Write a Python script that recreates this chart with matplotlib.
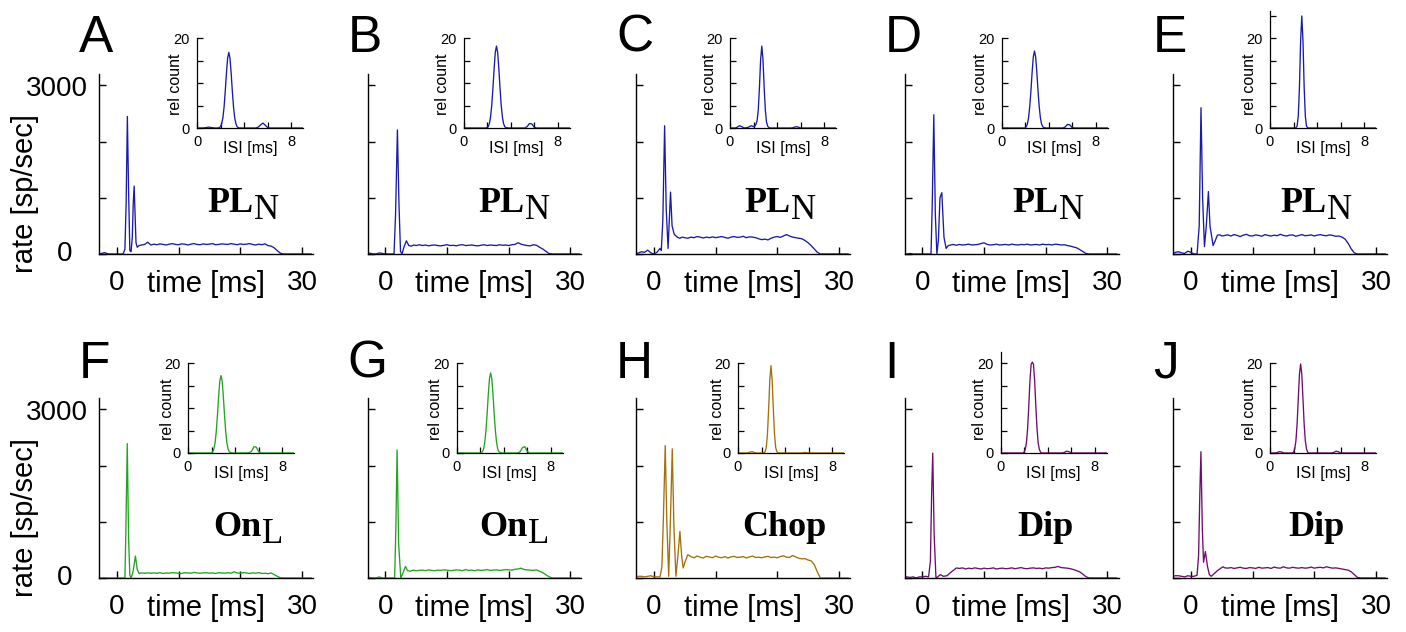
import numpy as np
import matplotlib
matplotlib.use('Agg')
import matplotlib.pyplot as plt

# ---------------- data ----------------
panels = ['A', 'B', 'C', 'D', 'E', 'F', 'G', 'H', 'I', 'J']
type_main = ['PL', 'PL', 'PL', 'PL', 'PL', 'On', 'On', 'Chop', 'Dip', 'Dip']
type_sub = ['N', 'N', 'N', 'N', 'N', 'L', 'L', '', '', '']

# onset part of the PSTH (time in ms, rate in sp/sec)
t_on = {
    'A': [-3, -2.5, -2, -1.5, -1, -0.5, 0, 0.5, 1.0, 1.3, 1.5, 1.7, 1.9, 2.1, 2.3, 2.5, 2.65, 2.8, 2.95, 3.1, 3.3, 3.6, 4.0, 4.5, 5.0, 5.5],
    'B': [-3, -2.5, -2, -1.5, -1, -0.5, 0, 0.5, 1.0, 1.4, 1.65, 1.95, 2.2, 2.45, 2.7, 3.0, 3.4, 3.8, 4.2, 4.6, 5.0, 5.5],
    'C': [-3, -2.5, -2, -1.5, -1, -0.5, 0, 0.5, 1.0, 1.2, 1.45, 1.74, 2.0, 2.3, 2.5, 2.7, 2.95, 3.3, 3.8, 4.2, 4.6, 5.0, 5.5],
    'D': [-3, -2.5, -2, -1.5, -1, -0.5, 0, 0.5, 1.0, 1.4, 1.6, 1.85, 2.1, 2.35, 2.6, 2.85, 3.15, 3.5, 3.85, 4.2, 4.6, 5.0, 5.5],
    'E': [-3, -2.5, -2, -1.5, -1, -0.5, 0, 0.5, 1.0, 1.35, 1.64, 1.9, 2.2, 2.5, 2.84, 3.1, 3.6, 4.0, 4.3, 4.7, 5.0, 5.5],
    'F': [-3, -2.5, -2, -1.5, -1, -0.5, 0, 0.5, 1.0, 1.3, 1.45, 1.68, 1.9, 2.1, 2.3, 2.6, 3.0, 3.3, 3.6, 4.0, 4.5, 5.0, 5.5],
    'G': [-3, -2.5, -2, -1.5, -1, -0.5, 0, 0.5, 1.0, 1.5, 1.7, 1.9, 2.15, 2.5, 2.9, 3.25, 3.6, 4.0, 4.5, 5.0, 5.5],
    'H': [-3, -2.5, -2, -1.5, -1, -0.5, 0, 0.5, 1.0, 1.3, 1.55, 1.84, 2.1, 2.4, 2.7, 2.98, 3.25, 3.57, 3.9, 4.22, 4.5, 4.75, 5.1, 5.5],
    'I': [-3, -2.5, -2, -1.5, -1, -0.5, 0, 0.5, 1.0, 1.3, 1.5, 1.68, 1.9, 2.2, 2.5, 2.9, 3.4, 4.0, 4.5, 4.8, 5.2, 5.5],
    'J': [-3, -2.5, -2, -1.5, -1, -0.5, 0, 0.5, 1.0, 1.25, 1.45, 1.63, 1.85, 2.05, 2.35, 2.7, 3.0, 3.3, 3.8, 4.3, 4.8, 5.2, 5.5],
}
r_on = {
    'A': [0, 10, 25, 5, 0, 0, 0, 0, 0, 80, 900, 2445, 1100, 60, 40, 300, 900, 1208, 700, 200, 120, 150, 160, 170, 210, 160],
    'B': [0, 15, 0, 0, 20, 10, 0, 0, 0, 0, 700, 2206, 900, 50, 0, 120, 235, 150, 140, 160, 150, 165],
    'C': [0, 20, 40, 30, 70, 20, 0, 30, 100, 60, 600, 2280, 800, 100, 600, 1100, 500, 350, 300, 280, 300, 290, 280],
    'D': [0, 0, 10, 0, 0, 0, 0, 0, 0, 0, 900, 2475, 700, 0, 250, 1000, 1090, 300, 100, 150, 160, 170, 155],
    'E': [0, 30, 40, 20, 10, 50, 30, 0, 0, 500, 2600, 1000, 130, 500, 1110, 500, 150, 250, 335, 340, 320, 330],
    'F': [0, 0, 0, 0, 0, 0, 0, 0, 0, 0, 800, 2390, 700, 50, 0, 100, 390, 150, 80, 90, 85, 90, 85],
    'G': [0, 10, 0, 0, 20, 0, 0, 0, 0, 0, 900, 2276, 600, 0, 100, 205, 130, 120, 140, 130, 135],
    'H': [20, 30, 30, 20, 30, 40, 20, 20, 20, 200, 1100, 2355, 1000, 30, 1100, 2296, 900, 30, 400, 828, 400, 178, 300, 414],
    'I': [20, 20, 10, 20, 0, 20, 20, 30, 20, 300, 1500, 2219, 800, 0, 20, 60, 30, 40, 90, 118, 150, 178],
    'J': [30, 40, 40, 30, 20, 40, 30, 30, 50, 400, 1500, 2245, 900, 280, 470, 200, 60, 30, 80, 130, 170, 200, 180],
}

# sustained part, sampled every 0.5 ms from 6.0 to 31.5 ms
t_sus = np.arange(6.0, 31.51, 0.5)
r_sus = {
    'A': [175, 165, 180, 170, 160, 175, 185, 170, 165, 180, 175, 160, 175, 185, 170, 165,
          180, 170, 175, 185, 165, 170, 180, 175, 170, 185, 175, 165, 180, 170, 175, 185,
          170, 160, 175, 165, 180, 150, 140, 110, 60, 15, 0, 0, 0, 0, 0, 0, 0, 0, 0, 0],
    'B': [150, 160, 145, 155, 160, 150, 145, 155, 165, 150, 155, 145, 160, 165, 150, 155,
          160, 150, 145, 155, 165, 150, 160, 155, 150, 165, 155, 160, 150, 165, 170, 200,
          175, 160, 150, 145, 165, 155, 120, 90, 50, 10, 0, 0, 0, 0, 0, 0, 0, 0, 0, 0],
    'C': [300, 290, 310, 300, 285, 300, 290, 305, 290, 300, 310, 295, 280, 300, 310, 295,
          300, 315, 290, 305, 300, 290, 270, 255, 265, 250, 280, 300, 310, 295, 320, 345,
          320, 300, 290, 280, 270, 240, 200, 150, 90, 30, 0, 0, 0, 0, 0, 0, 0, 0, 0, 0],
    'D': [170, 160, 165, 175, 160, 165, 170, 185, 200, 170, 160, 165, 175, 160, 165, 170,
          160, 175, 165, 160, 170, 165, 175, 160, 165, 170, 160, 175, 165, 170, 160, 175,
          170, 160, 165, 150, 140, 125, 110, 80, 45, 10, 0, 0, 0, 0, 0, 0, 0, 0, 0, 0],
    'E': [340, 320, 345, 330, 310, 335, 350, 325, 320, 340, 330, 315, 345, 330, 320, 335,
          325, 350, 330, 320, 335, 340, 315, 330, 345, 325, 330, 340, 320, 335, 345, 330,
          325, 340, 330, 315, 320, 300, 265, 190, 90, 20, 0, 0, 0, 0, 0, 0, 0, 0, 0, 0],
    'F': [90, 85, 95, 80, 90, 85, 95, 90, 85, 80, 95, 90, 85, 100, 90, 85,
          90, 95, 85, 90, 80, 95, 90, 85, 95, 85, 110, 90, 85, 95, 90, 80,
          90, 85, 95, 80, 85, 75, 90, 60, 30, 5, 0, 0, 0, 0, 0, 0, 0, 0, 0, 0],
    'G': [140, 130, 145, 135, 130, 140, 135, 145, 140, 130, 135, 145, 140, 130, 150, 135,
          140, 130, 145, 135, 140, 150, 135, 140, 145, 135, 140, 150, 145, 140, 155, 160,
          175, 150, 145, 140, 135, 145, 120, 95, 60, 25, 0, 0, 0, 0, 0, 0, 0, 0, 0, 0],
    'H': [380, 360, 390, 370, 355, 385, 375, 360, 390, 370, 360, 380, 355, 375, 385, 365,
          370, 380, 355, 375, 390, 365, 370, 360, 375, 385, 365, 370, 360, 380, 395, 370,
          365, 400, 375, 350, 340, 345, 320, 305, 240, 110, 0, 0, 0, 0, 0, 0, 0, 0, 0, 0],
    'I': [170, 180, 160, 175, 165, 180, 170, 160, 175, 165, 170, 180, 160, 170, 175, 165,
          170, 180, 165, 175, 185, 170, 165, 175, 180, 170, 175, 165, 180, 175, 185, 190,
          205, 185, 180, 175, 165, 150, 130, 110, 70, 25, 0, 0, 0, 0, 0, 0, 0, 0, 0, 0],
    'J': [175, 185, 170, 180, 190, 175, 170, 185, 180, 170, 190, 175, 180, 185, 170, 195,
          180, 175, 200, 180, 175, 190, 180, 175, 185, 175, 180, 195, 175, 185, 190, 180,
          200, 185, 175, 180, 170, 160, 150, 140, 110, 60, 10, 0, 0, 0, 0, 0, 0, 0, 0, 0],
}

# ISI histograms (ISI in ms, relative count)
isi_t = [0, 0.5, 0.8, 1.0, 1.2, 1.5, 1.8, 1.9, 2.0, 2.1, 2.2, 2.3, 2.4, 2.5, 2.6, 2.7, 2.8, 2.9,
         3.0, 3.1, 3.2, 3.3, 3.4, 3.5, 3.6, 3.8, 4.0, 4.5, 5.0, 5.2, 5.4, 5.6, 5.8, 6.0, 6.2,
         6.5, 7.0, 8.0, 9.0]
isi_c = {
    'A': [0, 0, 0.1, 0.2, 0.1, 0, 0, 0.1, 0.3, 1.0, 2.3, 4.7, 8.2, 12.2, 15.5, 16.8, 15.5, 12.2,
          8.2, 4.7, 2.3, 1.0, 0.3, 0.1, 0, 0, 0, 0, 0, 0.2, 0.7, 1.1, 0.6, 0.1, 0, 0, 0, 0, 0],
    'B': [0, 0, 0, 0, 0, 0, 0, 0, 0.1, 0.3, 1.0, 2.5, 5.1, 8.9, 13.2, 16.8, 18.2, 16.8,
          13.2, 8.9, 5.1, 2.5, 1.0, 0.3, 0.1, 0, 0, 0, 0, 0, 0.3, 1.0, 0.9, 0.2, 0, 0, 0, 0, 0],
    'C': [0, 0, 0.5, 0.3, 0, 0.1, 0.5, 0.4, 0.3, 0.4, 0.8, 1.6, 4.0, 9.0, 15.2, 18.2, 15.2, 9.0,
          4.0, 1.3, 0.4, 0.1, 0, 0, 0, 0, 0, 0, 0, 0, 0.1, 0.3, 0.2, 0, 0, 0, 0, 0, 0],
    'D': [0, 0, 0, 0, 0, 0, 0, 0, 0, 0.3, 0.9, 2.3, 4.8, 8.3, 12.4, 15.8, 17.1, 15.8,
          12.4, 8.3, 4.8, 2.3, 0.9, 0.3, 0.1, 0, 0, 0, 0, 0, 0.2, 0.8, 0.7, 0.1, 0, 0, 0, 0, 0],
    'E': [0, 0, 0, 0, 0, 0, 0, 0, 0, 0, 0.05, 0.4, 2.6, 9.1, 19.4, 24.9, 19.4, 9.1,
          2.6, 0.4, 0.05, 0, 0, 0, 0, 0, 0, 0, 0, 0, 0, 0, 0, 0, 0, 0, 0, 0, 0],
    'F': [0, 0, 0, 0, 0, 0, 0, 0, 0, 0.3, 0.9, 2.3, 4.8, 8.4, 12.6, 16.0, 17.2, 16.0,
          12.6, 8.4, 4.8, 2.3, 0.9, 0.3, 0.1, 0, 0, 0, 0, 0.1, 0.4, 1.4, 1.3, 0.3, 0, 0, 0, 0, 0],
    'G': [0, 0, 0, 0, 0, 0, 0, 0, 0, 0, 0.3, 0.9, 2.4, 5.0, 8.7, 13.0, 16.5, 17.8,
          16.5, 13.0, 8.7, 5.0, 2.4, 0.9, 0.3, 0, 0, 0, 0, 0, 0.3, 1.2, 1.4, 0.4, 0, 0, 0, 0, 0],
    'H': [0, 0, 0, 0.2, 0.3, 0, 0, 0, 0, 0, 0.05, 0.3, 1.2, 4.2, 9.7, 16.2, 19.4, 16.2,
          9.7, 4.2, 1.2, 0.3, 0.05, 0, 0, 0, 0, 0, 0, 0, 0, 0.1, 0.1, 0, 0, 0, 0, 0, 0],
    'I': [0, 0, 0, 0, 0, 0, 0, 0, 0.2, 0.8, 2.2, 5.4, 10.4, 16.0, 19.7, 20.2, 19.7, 16.0,
          10.4, 5.4, 2.2, 0.8, 0.2, 0, 0, 0, 0, 0, 0, 0, 0.1, 0.4, 0.3, 0, 0, 0, 0, 0, 0],
    'J': [0, 0, 0.3, 0.2, 0, 0, 0, 0, 0.2, 0.9, 2.7, 6.4, 12.0, 17.5, 19.8, 17.5, 12.0, 6.4,
          2.7, 0.9, 0.2, 0, 0, 0, 0, 0, 0, 0, 0, 0, 0.1, 0.4, 0.3, 0, 0, 0, 0, 0, 0],
}
isi_top = {'A': 20, 'B': 20, 'C': 20, 'D': 20, 'E': 26, 'F': 20, 'G': 20, 'H': 20, 'I': 22.4, 'J': 20}

# ---------------- styles / layout ----------------
colors = {'A': '#1a1aa6', 'B': '#1a1aa6', 'C': '#1a1aa6', 'D': '#1a1aa6', 'E': '#1a1aa6',
          'F': '#22a322', 'G': '#22a322', 'H': '#a3700a', 'I': '#6b0f6b', 'J': '#6b0f6b'}
inset_dx = {'A': 98, 'B': 96, 'C': 94, 'D': 97, 'E': 97, 'F': 89, 'G': 89, 'H': 102, 'I': 96, 'J': 97}
type_dx = {'A': 108, 'B': 111, 'C': 108, 'D': 108, 'E': 107, 'F': 114, 'G': 112, 'H': 106, 'I': 113, 'J': 115}

W, H = 1406, 632
fig = plt.figure(figsize=(W / 100, H / 100), dpi=100)
plt.rcParams['font.family'] = ['Liberation Sans', 'DejaVu Sans']

MAIN_W, MAIN_H = 214, 180
INS_W, INS_H20 = 106, 90


def ytick_text(ax, val, s, dx, dy, fs):
    ax.annotate(s, xy=(0, val), xycoords=('axes fraction', 'data'), xytext=(dx, dy),
                textcoords='offset pixels', ha='right', va='center', fontsize=fs,
                annotation_clip=False)


for k, p in enumerate(panels):
    row, col = divmod(k, 5)
    left = 99 + col * 268.5
    bottom = 254 + row * 324
    ax = fig.add_axes([left / W, 1 - bottom / H, MAIN_W / W, MAIN_H / H])
    t = list(t_on[p]) + list(t_sus)
    r = list(r_on[p]) + list(r_sus[p])
    ax.plot(t, r, color=colors[p], lw=0.95)
    ax.set_xlim(-2.9, 31.8)
    ax.set_ylim(0, 3200)
    for s in ['top', 'right']:
        ax.spines[s].set_visible(False)
    for s in ['left', 'bottom']:
        ax.spines[s].set_linewidth(1.0)
    ax.set_xticks([0, 10, 20, 30])
    ax.set_xticklabels(['0', '', '', '30'])
    ax.set_yticks([0, 1000, 2000, 3000])
    ax.set_yticklabels(['', '', '', ''])
    if col == 0:
        ytick_text(ax, 0, '0', -27, 0, 20)
        ytick_text(ax, 3000, '3000', -11, -4, 20)
        ax.set_ylabel('rate [sp/sec]', fontsize=21)
        ax.yaxis.label.set_va('center')
        ax.yaxis.set_label_coords(-0.346, 0.335)
    ax.tick_params(axis='x', direction='in', length=5, width=1.0, labelsize=20, pad=11.5)
    ax.tick_params(axis='y', direction='in', length=5, width=1.0)
    ax.set_xlabel('time [ms]', fontsize=21)
    ax.xaxis.label.set_va('baseline')
    ax.xaxis.set_label_coords(0.5, -0.21)

    # cell type label
    tl = ax.text(type_dx[p] / MAIN_W, 0.235, type_main[k], transform=ax.transAxes,
                 fontfamily='Liberation Serif', fontweight='bold', fontsize=26, va='baseline', ha='left')
    if type_sub[k]:
        ax.annotate(type_sub[k], xy=(1, 0), xycoords=tl, xytext=(0.5, -7), textcoords='offset pixels',
                    fontfamily='Liberation Serif', fontsize=25, va='bottom', ha='left')

    # panel letter
    fig.text((left - 20) / W, 1 - (52 + row * 326) / H, p, fontsize=37, ha='left', va='baseline')

    # inset ISI histogram
    ins_h = INS_H20 * isi_top[p] / 20
    ins_bottom = 128 + row * 325
    ins_left = left + inset_dx[p]
    ia = fig.add_axes([ins_left / W, 1 - ins_bottom / H, INS_W / W, ins_h / H])
    ia.plot(isi_t, isi_c[p], color=colors[p], lw=0.95)
    ia.set_xlim(0, 9)
    ia.set_ylim(0, isi_top[p])
    for s in ['top', 'right']:
        ia.spines[s].set_visible(False)
    for s in ['left', 'bottom']:
        ia.spines[s].set_linewidth(0.9)
    ia.set_xticks([0, 2, 4, 6, 8])
    ia.set_xticklabels(['0', '', '', '', '8'])
    yt = [0, 5, 10, 15, 20] + ([25] if isi_top[p] >= 25 else [])
    ia.set_yticks(yt)
    ia.set_yticklabels(['0', '', '', '', '20'] + ([''] if isi_top[p] >= 25 else []))
    ia.tick_params(direction='in', length=4, width=0.9, labelsize=10.5, pad=5)
    ia.set_xlabel('ISI [ms]', fontsize=11.5)
    ia.xaxis.label.set_va('baseline')
    ia.xaxis.set_label_coords(0.5, -25 / ins_h)
    ia.set_ylabel('rel count', fontsize=11.5)
    ia.yaxis.label.set_va('center')
    ia.yaxis.set_label_coords(-21 / INS_W, (44 / ins_h))

fig.savefig('out.png', dpi=100)
